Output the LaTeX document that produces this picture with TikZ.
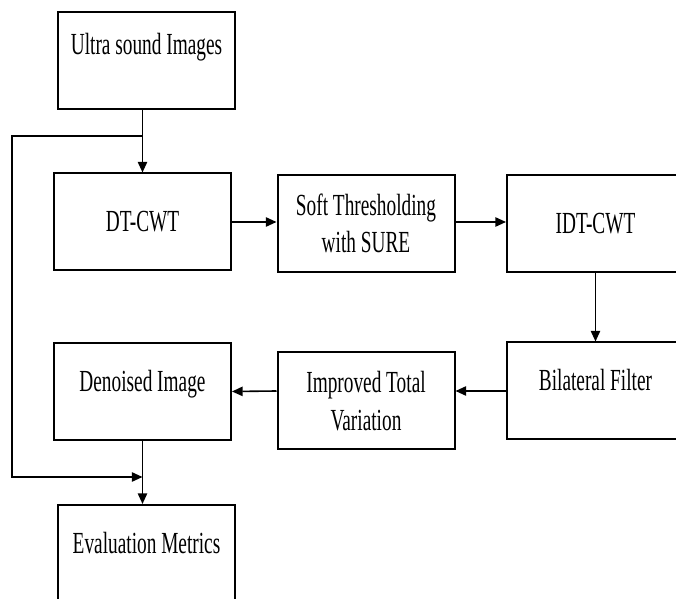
\documentclass[tikz,border=0pt]{standalone}
\usepackage{fontspec}
\setmainfont[FakeStretch=0.63]{Liberation Serif}
\usetikzlibrary{arrows.meta}

\begin{document}
\begin{tikzpicture}[x=0.75pt, y=-0.75pt,
    block/.style={rectangle, draw, line width=1.5pt, minimum width=132.75pt, minimum height=72.75pt,
      inner sep=2pt, align=center, font=\fontsize{23pt}{28pt}\selectfont},
    high/.style={text height=16pt, text depth=16pt},
    flow/.style={line width=1.2pt, -{Triangle[length=8pt, width=7pt]}}]
      \clip (0,0) rectangle (676,599);
      \node[block, text height=12pt, text depth=21.5pt] at (146.5, 60.5)  (us)  {Ultra sound Images};
      \node[block] at (142.5, 222)    (dt)  {DT-CWT};
      \node[block] at (366, 223.5)    (st)  {Soft Thresholding\\with SURE};
      \node[block] at (595.5, 223.5)  (idt) {IDT-CWT};
      \node[block, high] at (595.5, 391) (bf) {Bilateral Filter};
      \node[block] at (366, 401)      (tv)  {Improved Total\\Variation};
      \node[block, high] at (142.5, 391.5) (di) {Denoised Image};
      \node[block, high] at (146.5, 553.5) (em) {Evaluation Metrics};

      \coordinate (top) at (12, 136);
      \coordinate (bot) at (12, 477);

      \draw[flow] (dt.north |- us.south) -- (dt.north);
      \draw[flow] (dt.east) -- (st.west |- dt.east);
      \draw[flow] (st.east |- dt.east) -- (idt.west |- dt.east);
      \draw[flow] (idt) -- (bf);
      \draw[flow] (bf.west) -- (tv.east |- bf.west);
      \draw[flow] (tv.west |- bf.west) -- (di.east);
      \draw[flow] (di.south) -- (di.south |- em.north);
      \draw[flow] (dt.north |- top) -- (top) -- (bot) -- (di.south |- bot);
    \end{tikzpicture}
\end{document}
